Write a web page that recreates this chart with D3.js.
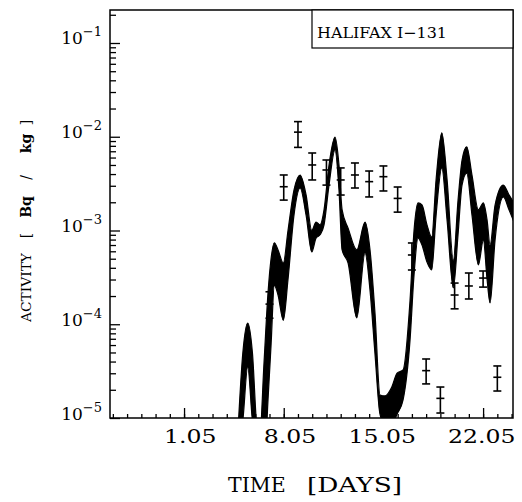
<!DOCTYPE html>
<html>
<head>
<meta charset="utf-8"/>
<script src="https://cdn.jsdelivr.net/npm/d3@7"></script>
<style>
  body { margin: 0; background: #fff; }
  svg { display: block; }
  .axis path { display: none; }
  .axis line { stroke: #000; stroke-width: 1.3; }
  .axis text { font-family: "DejaVu Serif", serif; fill: #000; }
</style>
</head>
<body>
<div id="chart"></div>
<script>
// days counted in May (1 = 1.05), activity in Bq/kg
var bandDays = [4.79, 5.13, 5.47, 5.8, 6.13, 6.3, 6.62, 6.9, 7.11, 7.34, 7.6, 7.97, 8.3, 8.72, 9.15, 9.57,
  9.97, 10.27, 10.55, 10.83, 11.18, 11.6, 11.88, 12.1, 12.52, 13.13, 13.71, 14.06, 14.41, 14.76, 15.12, 15.59,
  15.96, 16.38, 16.87, 17.15, 17.43, 17.71, 18.06, 18.39, 18.7, 19.1, 19.47, 19.91, 20.24, 20.52, 20.85, 21.22,
  21.67, 22.02, 22.28, 22.49, 22.84, 23.42, 23.82, 24.17];
var bandUpper = [7.4e-6, 5.0e-5, 1.03e-4, 5.0e-5, 7.4e-6, 6e-6, 4.0e-5, 2.2e-4, 5.0e-4, 7.4e-4, 6.2e-4, 4.5e-4,
  1.0e-3, 2.7e-3, 3.9e-3, 2.4e-3, 1.0e-3, 1.23e-3, 1.15e-3, 1.66e-3, 5.0e-3, 9.9e-3, 5.0e-3, 1.66e-3, 1.06e-3,
  6.2e-4, 1.23e-3, 6.2e-4, 1.3e-4, 1.76e-5, 1.72e-5, 2.14e-5, 3.0e-5, 3.25e-5, 1.8e-4, 1.0e-3, 1.97e-3, 1.87e-3,
  1.15e-3, 8.5e-4, 3.5e-3, 1.1e-2, 3.5e-3, 4.8e-4, 2.1e-3, 5.6e-3, 7.8e-3, 3.9e-3, 1.66e-3, 1.97e-3, 1.29e-3,
  7.0e-4, 1.87e-3, 3.05e-3, 2.4e-3, 1.97e-3];
var bandLower = [5e-6, 9.5e-6, 3.5e-5, 9.5e-6, 5e-6, 3.0e-6, 3.0e-6, 1.6e-5, 6.0e-5, 2.6e-4, 2.05e-4, 1.1e-4,
  3.0e-4, 1.46e-3, 2.84e-3, 1.46e-3, 5.9e-4, 8.3e-4, 9.0e-4, 1.15e-3, 3.05e-3, 7.2e-3, 2.7e-3, 6.2e-4, 4.5e-4,
  1.17e-4, 5.75e-4, 2.3e-4, 4.8e-5, 1.1e-5, 8.4e-6, 8.4e-6, 1.1e-5, 1.56e-5, 6.8e-5, 3.35e-4, 8.3e-4, 7.0e-4,
  4.6e-4, 3.8e-4, 1.46e-3, 4.65e-3, 1.29e-3, 2.44e-4, 9.0e-4, 3.05e-3, 4.1e-3, 1.46e-3, 4.3e-4, 7.9e-4, 3.0e-4,
  1.69e-4, 7.9e-4, 2.28e-3, 1.66e-3, 1.23e-3];

var measDays = [7, 8, 9, 10, 11, 12, 13, 14, 15, 16, 17, 18, 19, 20, 21, 22, 23];
var measValues = [1.64e-4, 2.93e-3, 1.12e-2, 5.0e-3, 4.42e-3, 3.46e-3, 3.91e-3, 3.32e-3, 3.75e-3, 2.20e-3,
  5.48e-4, 3.20e-5, 1.62e-5, 2.05e-4, 2.56e-4, 3.11e-4, 2.72e-5];
var measLow = [1.16e-4, 2.11e-3, 7.7e-3, 3.46e-3, 3.05e-3, 2.39e-3, 2.84e-3, 2.28e-3, 2.64e-3, 1.57e-3,
  3.79e-4, 2.31e-5, 1.13e-5, 1.46e-4, 1.86e-4, 2.49e-4, 1.94e-5];
var measHigh = [2.22e-4, 3.91e-3, 1.45e-2, 6.71e-3, 5.65e-3, 4.65e-3, 5.25e-3, 4.31e-3, 4.88e-3, 2.91e-3,
  7.36e-4, 4.26e-5, 2.14e-5, 2.75e-4, 3.52e-4, 3.70e-4, 3.59e-5];

var dayTicks = [1, 8, 15, 22];
var decades = [-5, -4, -3, -2, -1];

var w = 522, h = 502;
var padL = 110, padR = 513, padT = 10, padB = 418;

var svg = d3.select("#chart").append("svg").attr("width", w).attr("height", h);
svg.append("rect").attr("width", w).attr("height", h).attr("fill", "#fff");

var x = d3.scaleLinear().domain([-4.2, 24.1]).range([padL, padR]);
var y = d3.scaleLog().domain([1e-5, 0.2249]).range([padB, padT]);

svg.append("clipPath").attr("id", "plotclip")
  .append("rect").attr("x", padL).attr("y", padT).attr("width", padR - padL).attr("height", padB - padT);

// band
var band = bandDays.map(function(d, i) { return {day: d, hi: bandUpper[i], lo: bandLower[i]}; });
var area = d3.area()
  .x(function(d) { return x(d.day); })
  .y0(function(d) { return y(d.lo); })
  .y1(function(d) { return y(d.hi); })
  .curve(d3.curveMonotoneX);
svg.append("path").datum(band)
  .attr("clip-path", "url(#plotclip)")
  .attr("d", area)
  .attr("fill", "#000").attr("stroke", "#000").attr("stroke-width", 1.2);

// measurements with error bars
var meas = measDays.map(function(d, i) {
  return {day: d, v: measValues[i], lo: measLow[i], hi: measHigh[i]};
});
var eb = svg.append("g").attr("stroke", "#000").attr("stroke-width", 1.6)
  .selectAll("g").data(meas).enter().append("g");
eb.append("line")
  .attr("x1", function(d) { return x(d.day); }).attr("x2", function(d) { return x(d.day); })
  .attr("y1", function(d) { return y(d.hi); }).attr("y2", function(d) { return y(d.lo); });
["hi", "lo", "v"].forEach(function(k) {
  eb.append("line")
    .attr("x1", function(d) { return x(d.day) - 4; }).attr("x2", function(d) { return x(d.day) + 4; })
    .attr("y1", function(d) { return y(d[k]); }).attr("y2", function(d) { return y(d[k]); });
});

// y axis
var minorY = [];
decades.forEach(function(e) {
  for (var m = 2; m <= 9; m++) {
    var v = m * Math.pow(10, e);
    if (v <= y.domain()[1]) minorY.push(v);
  }
});
svg.append("g").attr("class", "axis").attr("transform", "translate(" + padL + ",0)")
  .call(d3.axisLeft(y).tickValues(minorY).tickSize(-6).tickFormat(""));
var yAxis = svg.append("g").attr("class", "axis").attr("transform", "translate(" + padL + ",0)")
  .call(d3.axisLeft(y).tickValues(decades.map(function(e) { return Math.pow(10, e); }))
    .tickSize(-10).tickFormat(""));
yAxis.selectAll(".tick").each(function(d) {
  var e = Math.round(Math.log10(d));
  var t = d3.select(this).select("text")
    .attr("x", -8).attr("dy", null).attr("y", 1)
    .attr("text-anchor", "end").attr("font-size", 17);
  t.append("tspan").text("10");
  t.append("tspan").attr("dy", -8).attr("font-size", 13).text("\u2212" + (-e));
});

// x axis
var allDays = d3.range(-4, 25);
svg.append("g").attr("class", "axis").attr("transform", "translate(0," + padB + ")")
  .call(d3.axisBottom(x).tickValues(allDays).tickSize(-4).tickFormat(""));
var xAxis = svg.append("g").attr("class", "axis").attr("transform", "translate(0," + padB + ")")
  .call(d3.axisBottom(x).tickValues(dayTicks).tickSize(-10)
    .tickFormat(function(d) { return d + ".05"; }));
xAxis.selectAll("text")
  .attr("y", 25).attr("dy", null).attr("x", 32)
  .attr("text-anchor", "end").attr("font-size", 18)
  .each(function() {
    var len = this.getComputedTextLength();
    d3.select(this).attr("textLength", len * 1.31).attr("lengthAdjust", "spacingAndGlyphs");
  });

// frame
svg.append("rect").attr("x", padL).attr("y", padT)
  .attr("width", padR - padL).attr("height", padB - padT)
  .attr("fill", "none").attr("stroke", "#000").attr("stroke-width", 1.5);

// legend box
svg.append("rect").attr("x", 312).attr("y", padT).attr("width", padR - 312).attr("height", 38)
  .attr("fill", "#fff").attr("stroke", "#000").attr("stroke-width", 1.2);
svg.append("text").attr("x", 317).attr("y", 38)
  .attr("font-family", "DejaVu Serif, serif").attr("font-size", 15)
  .attr("textLength", 130).attr("lengthAdjust", "spacingAndGlyphs")
  .text("HALIFAX  I\u2212131");

// axis titles
svg.append("text").attr("x", 228).attr("y", 492)
  .attr("font-family", "DejaVu Serif, serif").attr("font-size", 20.5)
  .text("TIME");
svg.append("text").attr("x", 307).attr("y", 492)
  .attr("font-family", "DejaVu Serif, serif").attr("font-size", 20.5)
  .attr("textLength", 95).attr("lengthAdjust", "spacingAndGlyphs")
  .text("[DAYS]");

// rotated y title, pieces placed along the axis (local x = 220 - page y)
var yt = svg.append("text")
  .attr("transform", "translate(31,220) rotate(-90)")
  .attr("text-anchor", "middle")
  .attr("font-family", "DejaVu Serif, serif").attr("font-size", 13.5);
yt.append("tspan").attr("x", 220 - 287.5).attr("textLength", 69)
  .attr("lengthAdjust", "spacingAndGlyphs").text("ACTIVITY");
yt.append("tspan").attr("x", 220 - 235.5).attr("font-size", 14).text("[");
yt.append("tspan").attr("x", 220 - 207).attr("font-size", 14).attr("font-weight", "bold").text("Bq");
yt.append("tspan").attr("x", 220 - 177.5).attr("font-size", 14).text("/");
yt.append("tspan").attr("x", 220 - 143.5).attr("font-size", 14).attr("font-weight", "bold").text("kg");
yt.append("tspan").attr("x", 220 - 122.5).attr("font-size", 14).text("]");
</script>
</body>
</html>
